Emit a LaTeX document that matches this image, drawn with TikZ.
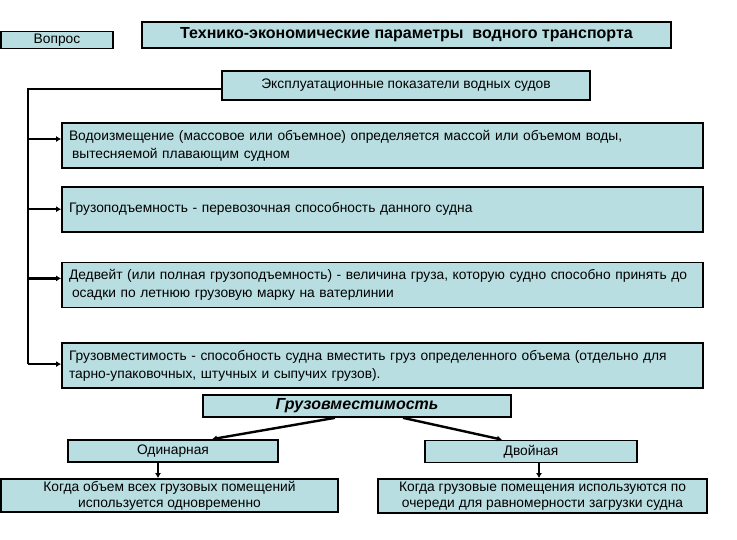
\documentclass[tikz,border=0pt]{standalone}
\usepackage{fontspec}
\setmainfont{Liberation Sans}
\usetikzlibrary{positioning,calc,arrows.meta}
\definecolor{boxteal}{RGB}{185,222,225}

\begin{document}
\begin{tikzpicture}[x=1pt,y=-1pt,
  every node/.style={font=\fontsize{13.8}{18}\selectfont},
  card/.style={rectangle,draw=black,line width=1.7pt,fill=boxteal,inner sep=0pt,align=center},
  infobox/.style={card,minimum width=641pt,minimum height=45pt,inner xsep=6pt,text width=629pt,align=left},
  pairbox/.style={card,font=\fontsize{13.8}{16}\selectfont},
  link/.style={line width=2.4pt},
  arr/.style={link,-{Latex[length=5pt,width=6pt]}}
]
\useasboundingbox (0,0) rectangle (737,540);
\node[card,minimum width=112pt,minimum height=17pt] (vopros) at (57,40) {Вопрос};
\node[card,minimum width=529pt,minimum height=26pt,font=\fontsize{16}{18}\selectfont\bfseries] (title) at (406.5,35)
  {Технико-экономические параметры\ \ водного транспорта};
\node[card,minimum width=368pt,minimum height=29pt] (eksp) at (406,85.5) {Эксплуатационные показатели водных судов};
\node[infobox] (b1) at (382.5,145.5)
  {\hspace*{1pt}Водоизмещение (массовое или объемное) определяется массой или объемом воды,\\\hspace*{4pt}вытесняемой плавающим судном};
\node[infobox,below=17pt of b1] (b2) {\hspace*{1pt}Грузоподъемность - перевозочная способность данного судна};
\node[infobox,below=29pt of b2] (b3)
  {\hspace*{1pt}Дедвейт (или полная грузоподъемность) - величина груза, которую судно способно принять до\\\hspace*{4pt}осадки по летнюю грузовую марку на ватерлинии};
\node[infobox,below=34pt of b3] (b4)
  {\hspace*{1pt}Грузовместимость - способность судна вместить груз определенного объема (отдельно для\\\hspace*{1pt}тарно-упаковочных, штучных и сыпучих грузов).};
\node[card,minimum width=308pt,minimum height=22pt,font=\fontsize{16}{18}\selectfont\bfseries\itshape] (gruz) at (357,406) {Грузовместимость};
\node[pairbox,minimum width=210pt,minimum height=22pt] (odin) at (173,451) {Одинарная};
\node[pairbox,minimum width=212pt,minimum height=22pt] (dvoin) at (531,451.5) {Двойная};
\node[pairbox,minimum width=337pt,minimum height=33pt] (kl) at (169.5,495.5)
  {Когда объем всех грузовых помещений\\используется одновременно};
\node[pairbox,minimum width=329pt,minimum height=34pt] (kr) at (542.5,496)
  {Когда грузовые помещения используются по\\очереди для равномерности загрузки судна};
% spine on the left
\coordinate (spine) at (28,89);
\draw[link] (eksp.west |- spine) -| ($(spine |- b4.west)+(0,-1.5)$);
\draw[arr] ($(spine |- b1.west)+(0,-6.5)$) -- ($(b1.west)+(0,-6.5)$);
\draw[arr] (spine |- b2.west) -- (b2.west);
\draw[arr] ($(spine |- b3.west)+(0,-6.5)$) -- ($(b3.west)+(0,-6.5)$);
\draw[arr] ($(spine |- b4.west)+(0,-1.5)$) -- ($(b4.west)+(0,-1.5)$);
% lower tree
\draw[arr] ([xshift=-22pt]gruz.south) -- ([xshift=39pt]odin.north);
\draw[arr] ([xshift=46pt]gruz.south) -- ([xshift=-29pt]dvoin.north);
\draw[arr] ([xshift=-15pt]odin.south) -- ([xshift=-15pt]odin.south |- kl.north);
\draw[arr] ([xshift=8pt]dvoin.south) -- ([xshift=8pt]dvoin.south |- kr.north);
\end{tikzpicture}
\end{document}
